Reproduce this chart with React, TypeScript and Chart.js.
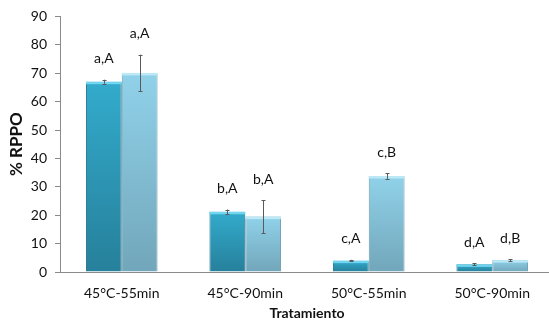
import React, { useEffect, useRef } from "react";
import { Chart, registerables } from "chart.js";

Chart.register(...registerables);

const categories = ["45°C-55min", "45°C-90min", "50°C-55min", "50°C-90min"];
const seriesA = [67.0, 21.2, 4.0, 2.7];
const seriesB = [70.1, 19.5, 33.8, 4.2];
const errorsA = [0.7, 0.8, 0.3, 0.3];
const errorsB = [6.4, 5.8, 1.0, 0.3];
const labelsA = ["a,A", "b,A", "c,A", "d,A"];
const labelsB = ["a,A", "b,A", "c,B", "d,B"];
const yTicks = [0, 10, 20, 30, 40, 50, 60, 70, 80, 90];

const FONT = "Lato, 'Open Sans', sans-serif";
const TEXT = "#111";

function barGradient(ctx: any, top: string, bottom: string) {
  const chart = ctx.chart;
  const area = chart.chartArea;
  const ys = chart.scales?.y;
  if (!area || !ys || ctx.type !== "data") return top;
  const v = ctx.raw as number;
  const y0 = ys.getPixelForValue(v);
  const y1 = ys.getPixelForValue(0);
  if (!isFinite(y0) || !isFinite(y1) || y1 - y0 < 1) return top;
  const g = chart.ctx.createLinearGradient(0, y0, 0, y1);
  g.addColorStop(0, top);
  g.addColorStop(1, bottom);
  return g;
}

const extrasPlugin = {
  id: "extras",
  afterDatasetsDraw(chart: any) {
    const ctx = chart.ctx;
    const ys = chart.scales.y;
    const errs = [errorsA, errorsB];
    const lbls = [labelsA, labelsB];
    const strips = ["#72d5ef", "#bde8f6"];
    chart.data.datasets.forEach((ds: any, di: number) => {
      const meta = chart.getDatasetMeta(di);
      meta.data.forEach((bar: any, i: number) => {
        const v = ds.data[i];
        const w = bar.width;
        ctx.save();
        ctx.fillStyle = strips[di];
        ctx.fillRect(bar.x - w / 2, bar.y, w, 2.5);
        ctx.restore();
        const e = errs[di][i];
        const yHi = ys.getPixelForValue(v + e);
        const yLo = ys.getPixelForValue(v - e);
        ctx.save();
        ctx.strokeStyle = "#5a5a5a";
        ctx.lineWidth = 1;
        ctx.beginPath();
        const x = Math.round(bar.x) + 0.5;
        ctx.moveTo(x, yHi);
        ctx.lineTo(x, yLo);
        ctx.moveTo(x - 2, Math.round(yHi) + 0.5);
        ctx.lineTo(x + 2, Math.round(yHi) + 0.5);
        ctx.moveTo(x - 2, Math.round(yLo) + 0.5);
        ctx.lineTo(x + 2, Math.round(yLo) + 0.5);
        ctx.stroke();
        ctx.restore();
        ctx.save();
        ctx.fillStyle = TEXT;
        ctx.font = `14px ${FONT}`;
        ctx.textAlign = "center";
        ctx.textBaseline = "middle";
        ctx.fillText(lbls[di][i], bar.x, yHi - 21);
        ctx.restore();
      });
    });
  },
};

export default function App() {
  const ref = useRef<HTMLCanvasElement | null>(null);
  useEffect(() => {
    if (!ref.current) return;
    const chart = new Chart(ref.current, {
      type: "bar",
      data: {
        labels: categories,
        datasets: [
          {
            label: "A",
            data: seriesA,
            backgroundColor: (c: any) => barGradient(c, "#33abcc", "#26809b"),
            borderColor: "#25738a",
            borderWidth: 1,
          },
          {
            label: "B",
            data: seriesB,
            backgroundColor: (c: any) => barGradient(c, "#90d2ea", "#72a6ba"),
            borderColor: "#6c9cb0",
            borderWidth: 1,
          },
        ],
      },
      options: {
        responsive: false,
        animation: false,
        layout: { padding: { top: 16, right: 0, bottom: 0, left: 0 } },
        plugins: {
          legend: { display: false },
          tooltip: { enabled: false },
        },
        datasets: {
          bar: { categoryPercentage: 0.58, barPercentage: 1 },
        },
        scales: {
          x: {
            grid: { display: false, drawTicks: false, tickLength: 0 },
            border: { color: "#8a8a8a", width: 1 },
            ticks: {
              color: TEXT,
              font: { family: FONT, size: 14 },
              padding: 13,
              maxRotation: 0,
            },
            title: {
              display: true,
              text: "Tratamiento",
              color: TEXT,
              font: { family: FONT, size: 14, weight: "bold", lineHeight: 1 },
              padding: { top: 0, bottom: 0 },
            },
            afterFit: (s: any) => {
              s.height = 48;
            },
          },
          y: {
            min: 0,
            max: 90,
            afterBuildTicks: (s: any) => {
              s.ticks = yTicks.map((v) => ({ value: v }));
            },
            grid: {
              display: true,
              drawOnChartArea: false,
              drawTicks: true,
              tickLength: 5,
              color: "#8a8a8a",
            },
            border: { color: "#8a8a8a", width: 1 },
            ticks: {
              color: TEXT,
              font: { family: FONT, size: 14 },
              padding: 8,
            },
            title: {
              display: true,
              text: "% RPPO",
              color: TEXT,
              font: { family: FONT, size: 17, weight: "bold" },
              padding: { top: 6, bottom: 0 },
            },
            afterFit: (s: any) => {
              s.width = 60;
            },
          },
        },
      },
      plugins: [extrasPlugin],
    });
    return () => chart.destroy();
  }, []);
  return (
    <div
      style={{
        position: "fixed",
        left: 0,
        top: 0,
        width: 549,
        height: 320,
        overflow: "hidden",
        background: "#fff",
      }}
    >
      <canvas ref={ref} width={554} height={320} style={{ width: 554, height: 320, display: "block" }} />
    </div>
  );
}
